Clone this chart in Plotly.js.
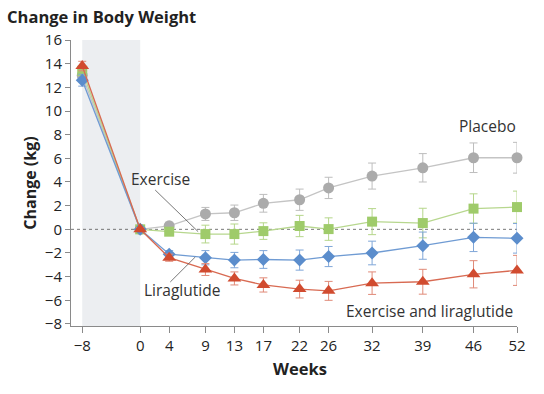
<!DOCTYPE html>
<html><head><meta charset="utf-8">
<script src="https://cdn.plot.ly/plotly-3.0.1.min.js"></script>
<style>body{margin:0;background:#fff}#c{width:544px;height:394px}</style>
</head><body><div id="c"></div>
<script>
const weeks = [-8, 0, 4, 9, 13, 17, 22, 26, 32, 39, 46, 52];
const tickLabels = ['\u22128','0','4','9','13','17','22','26','32','39','46','52'];
const placebo = [13.0, 0, 0.3, 1.3, 1.4, 2.2, 2.5, 3.5, 4.5, 5.2, 6.05, 6.05];
const placeboErr = [0.4, 0.15, 0.3, 0.55, 0.65, 0.75, 0.9, 0.9, 1.1, 1.2, 1.25, 1.3];
const exercise = [13.4, 0, -0.2, -0.4, -0.4, -0.15, 0.28, 0.02, 0.65, 0.53, 1.75, 1.88];
const exerciseErr = [0.4, 0.15, 0.3, 0.75, 0.85, 0.7, 0.9, 0.95, 1.1, 1.25, 1.25, 1.35];
const lira = [12.6, 0, -2.1, -2.4, -2.6, -2.55, -2.6, -2.3, -2.0, -1.38, -0.68, -0.76];
const liraErr = [0.5, 0.15, 0.3, 0.6, 0.65, 0.75, 0.85, 0.85, 1.0, 1.15, 1.2, 1.25];
const combo = [13.8, 0, -2.4, -3.4, -4.15, -4.7, -5.05, -5.2, -4.55, -4.43, -3.8, -3.47];
const comboErr = [0.4, 0.15, 0.3, 0.5, 0.55, 0.6, 0.75, 0.8, 0.95, 1.05, 1.15, 1.27];
const yTicks = [-8,-6,-4,-2,0,2,4,6,8,10,12,14,16];
const yTickLabels = yTicks.map(v => v < 0 ? '\u2212' + Math.abs(v) : String(v));

const FONT = '"Open Sans", Lato, sans-serif';
function series(name, y, err, mcol, lcol, ecol, symbol, size) {
  return {
    x: weeks, y: y, name: name, type: 'scatter', mode: 'lines+markers',
    cliponaxis: false,
    line: {color: lcol, width: 1.3},
    marker: {color: mcol, symbol: symbol, size: size},
    error_y: {type: 'data', array: err, visible: true, color: ecol, thickness: 1, width: 4}
  };
}
const data = [
  series('Placebo', placebo, placeboErr, '#ababab', '#c4c4c4', '#bdbdbd', 'circle', 11),
  series('Exercise', exercise, exerciseErr, '#9fcb6a', '#b7d78e', '#b5d68a', 'square', 10),
  series('Liraglutide', lira, liraErr, '#5b8dcc', '#6f9bd3', '#7fa6d8', 'diamond', 10),
  series('Exercise and liraglutide', combo, comboErr, '#d14b2f', '#d86a52', '#e08a78', 'triangle-up', 12)
];
const txt = {family: FONT, size: 15.5, color: '#333'};
const layout = {
  width: 544, height: 394,
  margin: {l: 71, r: 27, t: 40, b: 68},
  paper_bgcolor: '#fff', plot_bgcolor: 'rgba(0,0,0,0)',
  showlegend: false,
  font: {family: FONT, size: 14, color: '#222'},
  title: {text: '<b>Change in Body Weight</b>', x: 0.013, xanchor: 'left', y: 0.957, yanchor: 'middle',
          font: {family: FONT, size: 16.5, color: '#222'}},
  xaxis: {
    range: [-9.55, 52], tickvals: weeks, ticktext: tickLabels,
    showgrid: false, zeroline: false, showline: true, linecolor: '#8a8a8a', linewidth: 1,
    ticks: 'outside', ticklen: 6, tickcolor: '#8a8a8a',
    tickfont: {family: FONT, size: 15, color: '#222'}
  },
  yaxis: {
    range: [-8.17, 16], tickvals: yTicks, ticktext: yTickLabels,
    showgrid: false, zeroline: false, showline: true, linecolor: '#8a8a8a', linewidth: 1,
    ticks: 'outside', ticklen: 5, tickcolor: '#8a8a8a',
    tickfont: {family: FONT, size: 15, color: '#222'},
    title: {text: '<b>Change (kg)</b>', font: {family: FONT, size: 16, color: '#222'}, standoff: 4}
  },
  shapes: [
    {type: 'rect', xref: 'x', yref: 'paper', x0: -8, x1: 0, y0: 0, y1: 1,
     fillcolor: '#eceef1', line: {width: 0}, layer: 'below'},
    {type: 'line', xref: 'paper', yref: 'y', x0: 0, x1: 1, y0: 0, y1: 0,
     line: {color: '#555', width: 0.8, dash: 'dot'}, layer: 'below'},
    {type: 'line', xref: 'x', yref: 'y', x0: 2.07, y0: 3.32, x1: 8.0, y1: -0.2,
     line: {color: '#555', width: 0.8}},
    {type: 'line', xref: 'x', yref: 'y', x0: 4.15, y0: -4.45, x1: 7.6, y1: -2.34,
     line: {color: '#555', width: 0.8}}
  ],
  annotations: [
    {text: '<b>Weeks</b>', x: 0.513, y: -0.15, xref: 'paper', yref: 'paper', showarrow: false,
     xanchor: 'center', yanchor: 'middle', font: {family: FONT, size: 16.5, color: '#222'}},
    {text: 'Placebo', x: 47.9, y: 8.74, xref: 'x', yref: 'y', showarrow: false, font: txt},
    {text: 'Exercise', x: 2.75, y: 4.25, xref: 'x', yref: 'y', showarrow: false, font: txt},
    {text: 'Liraglutide', x: 5.8, y: -5.15, xref: 'x', yref: 'y', showarrow: false, font: txt},
    {text: 'Exercise and liraglutide', x: 39.9, y: -6.88, xref: 'x', yref: 'y', showarrow: false, font: txt}
  ]
};
Plotly.newPlot('c', data, layout, {displayModeBar: false, staticPlot: true});
</script></body></html>
